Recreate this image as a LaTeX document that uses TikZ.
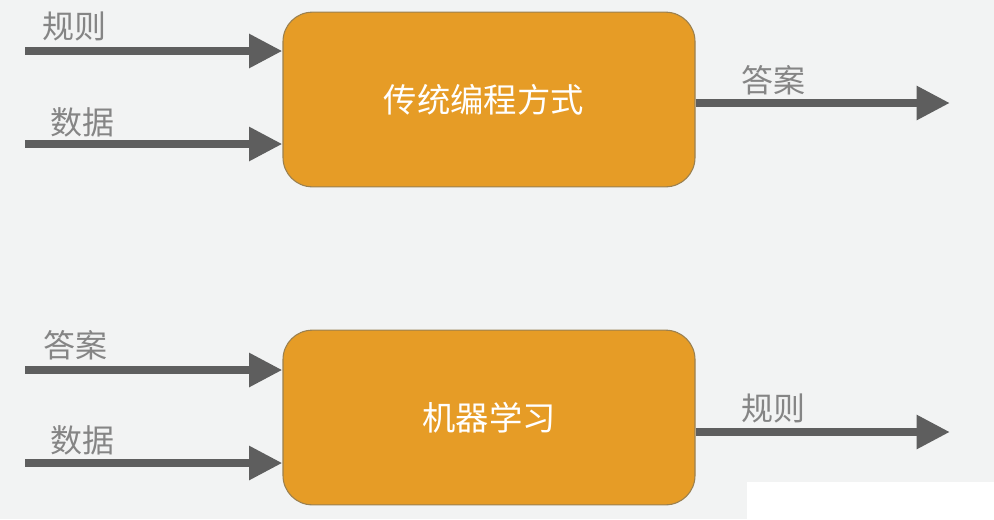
\documentclass[tikz,border=0pt]{standalone}
\usepackage{fontspec}
\setmainfont{Noto Sans CJK SC}
\usetikzlibrary{arrows.meta}
\definecolor{bgc}{HTML}{F2F3F3}
\definecolor{boxc}{HTML}{E69C26}
\definecolor{boxb}{HTML}{9A8050}
\definecolor{arrc}{HTML}{5E5E5E}
\definecolor{labc}{HTML}{858585}
\begin{document}
\begin{tikzpicture}[x=0.75pt,y=-0.75pt,
  procbox/.style={draw=boxb,line width=0.8pt,fill=boxc,rounded corners=22pt,
    minimum width=309pt,minimum height=131pt,inner sep=0pt,
    text=white,font=\fontsize{25}{28}\selectfont},
  flow/.style={draw=arrc,line width=6.3pt,-{Triangle[length=25pt,width=24pt]}},
  lab/.style={text=labc,font=\fontsize{24}{27}\selectfont,inner sep=0pt}]
\useasboundingbox[fill=bgc] (0,0) rectangle (994,519);
\fill[white] (747,482) rectangle (994,519);
% boxes
\node[procbox] (top) at (489,99.5) {\hspace*{-8pt}传统编程方式};
\node[procbox] (bot) at (489,417.5) {机器学习};
% top inputs
\coordinate (t1) at (25,51);
\coordinate (t2) at (25,144);
\draw[flow] (t1) -- (t1 -| top.west);
\draw[flow] (t2) -- (t2 -| top.west);
\node[lab] (lt1) at (74,26) {规则};
\node[lab] (lt2) at (82,122) {数据};
% top output
\coordinate (to) at (950,103);
\draw[flow] (to -| top.east) -- (to);
\node[lab] (lto) at (773,80) {答案};
% bottom inputs
\coordinate (b1) at (25,370);
\coordinate (b2) at (25,463);
\draw[flow] (b1) -- (b1 -| bot.west);
\draw[flow] (b2) -- (b2 -| bot.west);
\node[lab] (lb1) at (75,345) {答案};
\node[lab] (lb2) at (82,440) {数据};
% bottom output
\coordinate (bo) at (950,432);
\draw[flow] (bo -| bot.east) -- (bo);
\node[lab] (lbo) at (773,408) {规则};
\end{tikzpicture}
\end{document}
